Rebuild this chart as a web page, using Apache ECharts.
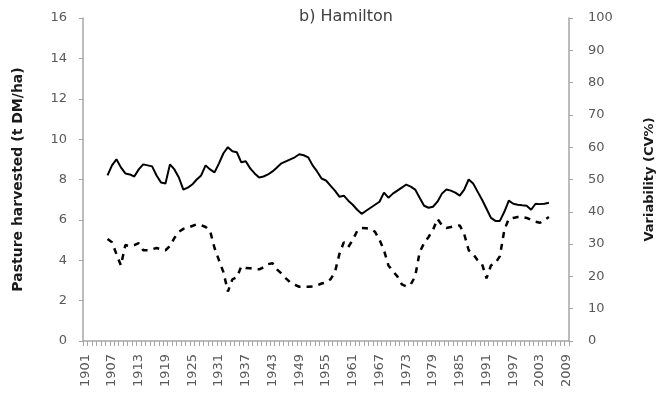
<!DOCTYPE html>
<html>
<head>
<meta charset="utf-8">
<script src="https://cdn.jsdelivr.net/npm/echarts@6/dist/echarts.min.js"></script>
<style>
html,body{margin:0;padding:0;background:#fff;}
#chart{width:664px;height:404px;}
</style>
</head>
<body>
<div id="chart"></div>
<script>
// Category axis years (1901-2009)
var firstYear = 1901;
var lastYear = 2009;
// Data start year
var dataStartYear = 1906;
// Pasture harvested (t DM/ha), 1906-2005
var pastureHarvested = [
  8.2, 8.7, 9.0, 8.6, 8.3, 8.25, 8.15, 8.5, 8.75, 8.7,
  8.65, 8.2, 7.85, 7.8, 8.75, 8.5, 8.1, 7.5, 7.6, 7.75,
  8.0, 8.2, 8.7, 8.5, 8.35, 8.8, 9.3, 9.6, 9.4, 9.35,
  8.85, 8.9, 8.55, 8.3, 8.1, 8.15, 8.25, 8.4, 8.6, 8.8,
  8.9, 9.0, 9.1, 9.25, 9.2, 9.1, 8.7, 8.4, 8.05, 7.95,
  7.7, 7.45, 7.15, 7.2, 6.95, 6.75, 6.5, 6.3, 6.45, 6.6,
  6.75, 6.9, 7.35, 7.1, 7.3, 7.45, 7.6, 7.75, 7.65, 7.5,
  7.1, 6.7, 6.6, 6.65, 6.9, 7.3, 7.5, 7.45, 7.35, 7.2,
  7.5, 8.0, 7.8, 7.4, 7.0, 6.55, 6.1, 5.95, 5.95, 6.4,
  6.95, 6.8, 6.75, 6.72, 6.7, 6.5, 6.8, 6.78, 6.8, 6.85
];
// Variability (CV%), 1906-2005
var variabilityCV = [
  31.6, 30.6, 26.9, 23.4, 29.7, 29.4, 29.7, 30.3, 28.1, 28.1,
  28.4, 28.8, 28.4, 28.1, 29.4, 31.9, 33.8, 34.7, 35.1, 35.6,
  36.1, 35.9, 35.3, 34.1, 28.8, 25.0, 21.3, 15.3, 19.1, 19.7,
  23.1, 22.6, 22.5, 22.3, 22.2, 22.8, 23.8, 24.1, 22.2, 20.9,
  19.4, 18.1, 17.4, 16.8, 16.8, 16.8, 16.9, 17.2, 17.8, 18.1,
  19.1, 21.3, 26.9, 30.6, 29.1, 31.3, 34.1, 35.0, 34.9, 34.7,
  33.8, 31.3, 28.1, 23.4, 21.6, 20.0, 17.5, 16.9, 17.5, 20.0,
  27.5, 30.3, 32.2, 34.4, 37.8, 35.9, 35.0, 35.3, 35.6, 35.8,
  33.1, 28.1, 26.9, 25.0, 23.8, 19.4, 23.4, 24.1, 26.3, 34.4,
  37.8, 38.1, 38.4, 38.4, 38.1, 37.5, 36.9, 36.6, 37.5, 38.4
];
var leftTicks = {min: 0, max: 16, interval: 2};
var rightTicks = {min: 0, max: 100, interval: 10};

var years = [];
for (var y = firstYear; y <= lastYear; y++) years.push(String(y));
function align(arr) {
  return years.map(function (yr) {
    var i = Number(yr) - dataStartYear;
    return (i >= 0 && i < arr.length) ? arr[i] : null;
  });
}

var labelColor = '#595959';
var axisColor = '#a6a6a6';
var font = 'DejaVu Sans, sans-serif';

var chart = echarts.init(document.getElementById('chart'));
chart.setOption({
  animation: false,
  backgroundColor: '#fff',
  title: {
    text: 'b) Hamilton',
    left: 341, top: 4, textAlign: 'center',
    textStyle: {fontFamily: font, fontSize: 16, fontWeight: 'normal', color: '#404040'}
  },
  grid: {left: 83, right: 86, top: 18, bottom: 63},
  xAxis: {
    type: 'category',
    data: years,
    boundaryGap: true,
    axisLine: {lineStyle: {color: axisColor, width: 1.5}},
    axisTick: {show: true, interval: 0, length: 5, lineStyle: {color: axisColor}},
    axisLabel: {interval: 5, rotate: 90, color: labelColor, fontFamily: font, fontSize: 13, margin: 13},
    splitLine: {show: false}
  },
  yAxis: [{
    type: 'value',
    min: leftTicks.min, max: leftTicks.max, interval: leftTicks.interval,
    name: 'Pasture harvested (t DM/ha)',
    nameLocation: 'middle', nameRotate: 90, nameGap: 58,
    nameTextStyle: {fontFamily: font, fontSize: 14, fontWeight: 'bold', color: '#1a1a1a'},
    axisLine: {show: true, lineStyle: {color: axisColor, width: 1.5}},
    axisTick: {show: true, length: 4, lineStyle: {color: axisColor}},
    axisLabel: {color: labelColor, fontFamily: font, fontSize: 13, margin: 16},
    splitLine: {show: false}
  }, {
    type: 'value',
    position: 'right',
    min: rightTicks.min, max: rightTicks.max, interval: rightTicks.interval,
    name: 'Variability (CV%)',
    nameLocation: 'middle', nameRotate: 90, nameGap: 74,
    nameTextStyle: {fontFamily: font, fontSize: 13, fontWeight: 'bold', color: '#1a1a1a'},
    axisLine: {show: true, lineStyle: {color: axisColor, width: 1.5}},
    axisTick: {show: true, length: 4, lineStyle: {color: axisColor}},
    axisLabel: {color: labelColor, fontFamily: font, fontSize: 13, margin: 19},
    splitLine: {show: false}
  }],
  series: [{
    type: 'line',
    name: 'Pasture harvested',
    yAxisIndex: 0,
    data: align(pastureHarvested),
    showSymbol: false,
    connectNulls: false,
    lineStyle: {color: '#000', width: 2}
  }, {
    type: 'line',
    name: 'Variability',
    yAxisIndex: 1,
    data: align(variabilityCV),
    showSymbol: false,
    lineStyle: {color: '#000', width: 2.5, type: [6, 6]}
  }]
});
</script>
</body>
</html>
